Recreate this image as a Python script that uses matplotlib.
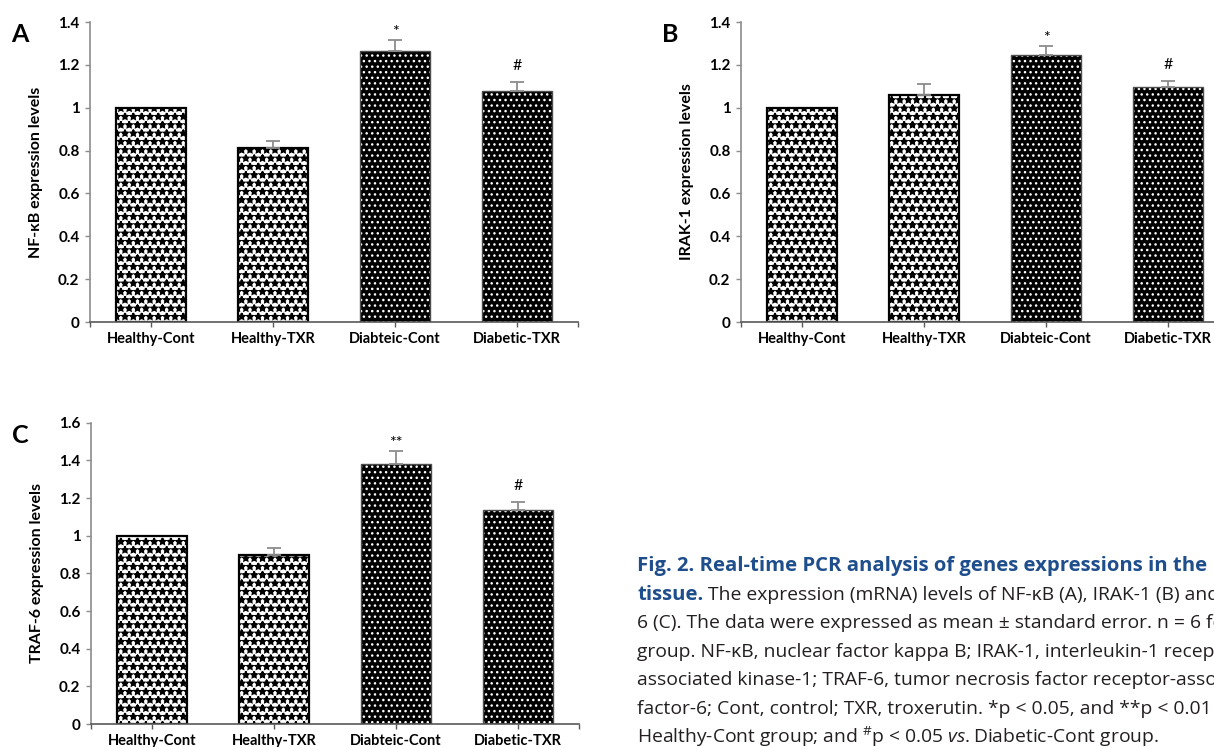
import matplotlib
matplotlib.use("Agg")
import matplotlib.pyplot as plt
import numpy as np
from matplotlib.ticker import FuncFormatter, FixedLocator

# ---------------- data ----------------
groups = ["Healthy-Cont", "Healthy-TXR", "Diabteic-Cont", "Diabetic-TXR"]
diabetic = [False, False, True, True]

nfkb = [1.00, 0.81, 1.265, 1.08]
nfkb_err = [0.0, 0.035, 0.05, 0.042]
nfkb_sig = ["", "", "*", "#"]

irak1 = [1.00, 1.06, 1.248, 1.097]
irak1_err = [0.0, 0.052, 0.04, 0.03]
irak1_sig = ["", "", "*", "#"]

traf6 = [1.00, 0.898, 1.382, 1.138]
traf6_err = [0.0, 0.036, 0.068, 0.042]
traf6_sig = ["", "", "**", "#"]

ylabels = ["NF-\u03baB expression levels", "IRAK-1 expression levels", "TRAF-6 expression levels"]
ymaxes = [1.4, 1.4, 1.6]
letters = ["A", "B", "C"]

caption_lines = [
    [("Fig. 2. Real-time PCR analysis of genes expressions in the", "title")],
    [("tissue.", "title"), (" The expression (mRNA) levels of NF-\u03baB (A), IRAK-1 (B) and", "body")],
    [("6 (C). The data were expressed as mean \u00b1 standard error. n = 6 for", "body")],
    [("group. NF-\u03baB, nuclear factor kappa B; IRAK-1, interleukin-1 receptor-", "body")],
    [("associated kinase-1; TRAF-6, tumor necrosis factor receptor-associated", "body")],
    [("factor-6; Cont, control; TXR, troxerutin. *p < 0.05, and **p < 0.01", "body")],
    [(r"Healthy-Cont group; and $^{\#}$p < 0.05 $\mathit{vs.}$Diabetic-Cont group.", "body")],
]

# ---------------- style ----------------
cap_font = "Open Sans"
title_size, body_size = 14.6, 13.85
plt.rcParams["mathtext.fontset"] = "custom"
plt.rcParams["mathtext.rm"] = cap_font
plt.rcParams["mathtext.it"] = cap_font + ":italic"
plt.rcParams["mathtext.bf"] = cap_font + ":bold"

LBL = ["Lato", "DejaVu Sans"]
W, H = 1214, 747
fig = plt.figure(figsize=(W / 100, H / 100), dpi=100)
fig.patch.set_facecolor("white")


def add_axes(l, t, r, b):
    return fig.add_axes([l / W, 1 - b / H, (r - l) / W, (b - t) / H])


axes = [add_axes(90, 22, 578, 322), add_axes(741, 22, 1229, 322), add_axes(91, 422.7, 579, 724)]
series = [(nfkb, nfkb_err, nfkb_sig), (irak1, irak1_err, irak1_sig), (traf6, traf6_err, traf6_sig)]
sig_off = {"*": 1, "**": 1, "#": 6}

for ax, (vals, errs, sigs), ylab, ymax, letter in zip(axes, series, ylabels, ymaxes, letters):
    x = np.arange(len(groups))
    vals = np.array(vals)
    errs = np.array(errs)
    dmask = np.array(diabetic)
    width = 0.57
    # light bars: black dots on white
    plt.rcParams["hatch.linewidth"] = 1.3
    ax.bar(x[~dmask], vals[~dmask], width, facecolor="white", edgecolor="black",
           hatch="**", linewidth=1.6, zorder=2)
    # dark bars: white dots on black
    plt.rcParams["hatch.linewidth"] = 1.0
    ax.bar(x[dmask], vals[dmask], width, facecolor="black", edgecolor="white",
           hatch="...", linewidth=0, zorder=2)
    ax.bar(x[dmask], vals[dmask], width, fill=False, edgecolor="#4d4d4d",
           linewidth=1.0, zorder=3)
    m = errs > 0
    ax.errorbar(x[m], vals[m], yerr=[np.zeros(m.sum()), errs[m]], fmt="none",
                ecolor="#8c8c8c", elinewidth=1.3, capsize=5, capthick=1.3, zorder=4)
    for xi, v, e, s in zip(x, vals, errs, sigs):
        if s:
            ax.annotate(s, (xi, v + e), xytext=(0, sig_off[s]), textcoords="offset points",
                        ha="center", va="bottom", fontsize=11.5, family=LBL)
    ax.set_xlim(-0.5, len(groups) - 0.5)
    ax.set_ylim(0, ymax)
    ax.yaxis.set_major_locator(FixedLocator(np.arange(0, ymax + 0.01, 0.2)))
    ax.yaxis.set_major_formatter(FuncFormatter(lambda v, p: f"{v:g}"))
    ax.set_xticks(x)
    ax.set_xticklabels(groups)
    ax.set_xticks([-0.5, len(groups) - 0.5], minor=True)
    for sp in ["top", "right"]:
        ax.spines[sp].set_visible(False)
    ax.spines["left"].set_color("#8c8c8c")
    ax.spines["bottom"].set_color("#595959")
    ax.spines["left"].set_linewidth(1.2)
    ax.spines["bottom"].set_linewidth(1.2)
    ax.tick_params(axis="y", direction="out", length=3.5, width=1, color="#8c8c8c", pad=4)
    ax.tick_params(axis="x", which="both", direction="out", length=3.5, width=1, color="#595959", pad=4)
    for lab in ax.get_xticklabels():
        lab.set_fontfamily(LBL)
        lab.set_fontweight("bold")
        lab.set_fontsize(10.5)
    for lab in ax.get_yticklabels():
        lab.set_fontfamily(LBL)
        lab.set_fontweight("bold")
        lab.set_fontsize(11)
    ax.set_ylabel(ylab, fontsize=11.5, fontweight="bold", family=LBL, labelpad=10.5)
    bb = ax.get_position()
    fig.text(bb.x0 - 79 / W, bb.y1 - 13 / H, letter, fontsize=18, fontweight="bold",
             family=LBL, ha="left", va="center")

# ---------------- caption ----------------
x0 = 637 / W
base0 = 571
pitch = 28.6
fig.canvas.draw()
renderer = fig.canvas.get_renderer()
for i, pieces in enumerate(caption_lines):
    y = 1 - (base0 + i * pitch) / H
    xcur = x0
    for txt, kind in pieces:
        if kind == "title":
            t = fig.text(xcur, y, txt, fontsize=title_size, family=cap_font, fontweight="bold",
                         color="#1f4e8c", va="baseline", ha="left")
        else:
            t = fig.text(xcur, y, txt, fontsize=body_size, family=[cap_font, "DejaVu Sans"],
                         color="#231f20", va="baseline", ha="left")
        ext = t.get_window_extent(renderer)
        xcur = ext.x1 / W

fig.savefig("out.png", dpi=100, facecolor="white")
